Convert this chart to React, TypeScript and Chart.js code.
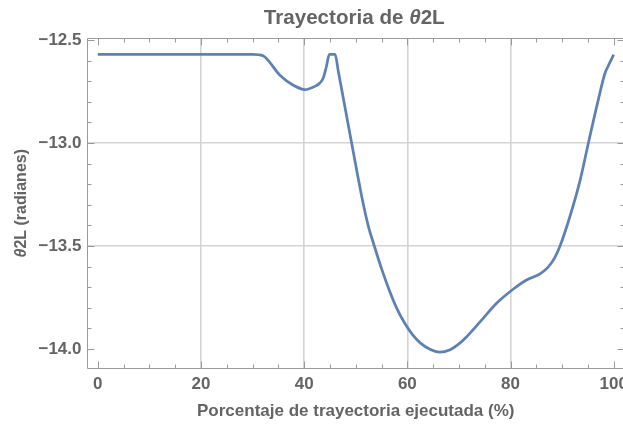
import React, { useEffect, useRef } from "react";
import { Chart, registerables } from "chart.js";

Chart.register(...registerables);

// ---- data ----
const xValues = [
  0, 30, 32, 35.3, 37.9, 40.2, 42.1, 43.0, 43.7, 44.3, 44.9, 46.0, 46.6, 49.2,
  51.2, 52.4, 53.6, 55.0, 56.5, 58.0, 59.5, 61.0, 62.5, 64.3, 66.3, 68.3, 70.0,
  71.5, 74.1, 77.3, 80.5, 83.1, 85.7, 87.2, 88.5, 89.6, 91.5, 93.5, 95.1, 97.0,
  98.3, 99.0, 100,
];
const yValues = [
  -12.57, -12.57, -12.577, -12.671, -12.72, -12.741, -12.725, -12.71, -12.685,
  -12.63, -12.57, -12.57, -12.65, -13.0, -13.265, -13.4, -13.5, -13.61, -13.715,
  -13.805, -13.875, -13.93, -13.97, -14.0, -14.015, -14.003, -13.975, -13.94,
  -13.868, -13.778, -13.71, -13.665, -13.635, -13.605, -13.56, -13.5, -13.358,
  -13.18, -13.0, -12.792, -12.663, -12.623, -12.571,
];

const xTickValues = [0, 20, 40, 60, 80, 100];
const yTickValues = [-12.5, -13.0, -13.5, -14.0];
const xGridValues = [20, 40, 60, 80];
const yGridValues = [-13.0, -13.5];
const xMinorTicks = [5, 10, 15, 25, 30, 35, 45, 50, 55, 65, 70, 75, 85, 90, 95];
const yMinorTicks = [
  -12.6, -12.7, -12.8, -12.9, -13.1, -13.2, -13.3, -13.4, -13.6, -13.7, -13.8,
  -13.9,
];

const titleParts = ["Trayectoria de ", "θ", "2L"];
const yTitleParts = ["θ", "2L (radianes)"];
const xTitle = "Porcentaje de trayectoria ejecutada (%)";

const FONT = "'Liberation Sans', Arial, sans-serif";
const TEXT = "#646464";
const FRAME = "#9a9a9a";
const GRID = "#d4d4d4";
const LINE = "#5E81B5";

const W = 640;
const H = 425;

function drawParts(
  ctx: CanvasRenderingContext2D,
  parts: string[],
  size: number,
  italicIndex: number
) {
  const fonts = parts.map(
    (_, i) => `${i === italicIndex ? "italic " : ""}bold ${size}px ${FONT}`
  );
  let total = 0;
  const widths = parts.map((p, i) => {
    ctx.font = fonts[i];
    const w = ctx.measureText(p).width;
    total += w;
    return w;
  });
  let x = -total / 2;
  parts.forEach((p, i) => {
    ctx.font = fonts[i];
    ctx.fillText(p, x, 0);
    x += widths[i];
  });
}

const framePlugin = {
  id: "mmaFrame",
  afterDatasetsDraw(chart: any) {
    const { ctx, chartArea, scales } = chart;
    const xs = scales.x;
    const ys = scales.y;
    const L = Math.floor(chartArea.left) + 0.5;
    const R = Math.floor(chartArea.right) + 0.5;
    const T = Math.floor(chartArea.top) + 0.5;
    const B = Math.floor(chartArea.bottom) + 0.5;
    ctx.save();
    ctx.strokeStyle = FRAME;
    ctx.lineWidth = 1;
    ctx.beginPath();
    ctx.rect(L, T, R - L, B - T);
    ctx.stroke();
    const major = 7;
    const minor = 4;
    ctx.beginPath();
    const vTick = (v: number, len: number) => {
      const p = Math.round(xs.getPixelForValue(v)) + 0.5;
      ctx.moveTo(p, B);
      ctx.lineTo(p, B - len);
      ctx.moveTo(p, T);
      ctx.lineTo(p, T + len);
    };
    const hTick = (v: number, len: number) => {
      const p = Math.round(ys.getPixelForValue(v)) + 0.5;
      ctx.moveTo(L, p);
      ctx.lineTo(L + len, p);
      ctx.moveTo(R, p);
      ctx.lineTo(R - len, p);
    };
    xTickValues.forEach((v) => vTick(v, major));
    xMinorTicks.forEach((v) => vTick(v, minor));
    yTickValues.forEach((v) => hTick(v, major));
    yMinorTicks.forEach((v) => hTick(v, minor));
    ctx.stroke();

    // main title with italic theta
    ctx.fillStyle = TEXT;
    ctx.textBaseline = "alphabetic";
    ctx.textAlign = "left";
    ctx.save();
    ctx.translate((chartArea.left + chartArea.right) / 2 - 1.5, 23.5);
    drawParts(ctx, titleParts, 20.6, 1);
    ctx.restore();

    // y axis title, rotated
    ctx.save();
    ctx.translate(25.5, (chartArea.top + chartArea.bottom) / 2);
    ctx.rotate(-Math.PI / 2);
    drawParts(ctx, yTitleParts, 16, 0);
    ctx.restore();
    ctx.restore();
  },
};

export default function App() {
  const canvasRef = useRef<HTMLCanvasElement | null>(null);

  useEffect(() => {
    document.body.style.margin = "0";
    document.body.style.overflow = "hidden";
    const canvas = canvasRef.current;
    if (!canvas) return;
    const tickFont = { family: FONT, size: 17, weight: "bold" as const };
    const chart = new Chart(canvas, {
      type: "line",
      data: {
        datasets: [
          {
            data: xValues.map((x, i) => ({ x, y: yValues[i] })),
            borderColor: LINE,
            borderWidth: 2.75,
            pointRadius: 0,
            fill: false,
            cubicInterpolationMode: "monotone",
          },
        ],
      },
      options: {
        animation: false,
        responsive: false,
        devicePixelRatio: 1,
        layout: { padding: { top: 38.5, right: W - 624, bottom: 0, left: 0 } },
        plugins: {
          legend: { display: false },
          tooltip: { enabled: false },
          title: { display: false },
        },
        scales: {
          x: {
            type: "linear",
            min: -2,
            max: 102,
            afterBuildTicks: (s: any) => {
              s.ticks = xTickValues.map((value) => ({ value }));
            },
            afterFit: (s: any) => {
              s.height = 57;
            },
            ticks: {
              font: tickFont,
              color: TEXT,
              padding: 6,
              maxRotation: 0,
              autoSkip: false,
              callback: (v: any) => String(v),
            },
            grid: {
              drawTicks: false,
              lineWidth: 1.6,
              color: (c: any) =>
                c.tick && xGridValues.includes(c.tick.value) ? GRID : "rgba(0,0,0,0)",
            },
            border: { display: false },
            title: {
              display: true,
              text: xTitle,
              font: tickFont,
              color: TEXT,
              padding: { top: 0, bottom: 3 },
            },
          },
          y: {
            type: "linear",
            min: -14.092,
            max: -12.493,
            afterBuildTicks: (s: any) => {
              s.ticks = yTickValues.map((value) => ({ value }));
            },
            afterFit: (s: any) => {
              s.width = 87.5;
            },
            ticks: {
              font: tickFont,
              color: TEXT,
              padding: 6,
              autoSkip: false,
              callback: (v: any) => "\u2212" + Math.abs(Number(v)).toFixed(1),
            },
            grid: {
              drawTicks: false,
              lineWidth: 1.6,
              color: (c: any) =>
                c.tick && yGridValues.includes(c.tick.value) ? GRID : "rgba(0,0,0,0)",
            },
            border: { display: false },
          },
        },
      },
      plugins: [framePlugin],
    } as any);
    return () => chart.destroy();
  }, []);

  return (
    <div style={{ position: "fixed", left: 0, top: 0, width: W, height: H, background: "#fff" }}>
      <canvas
        ref={canvasRef}
        width={W}
        height={H}
        style={{ display: "block", width: W, height: H }}
      />
    </div>
  );
}
